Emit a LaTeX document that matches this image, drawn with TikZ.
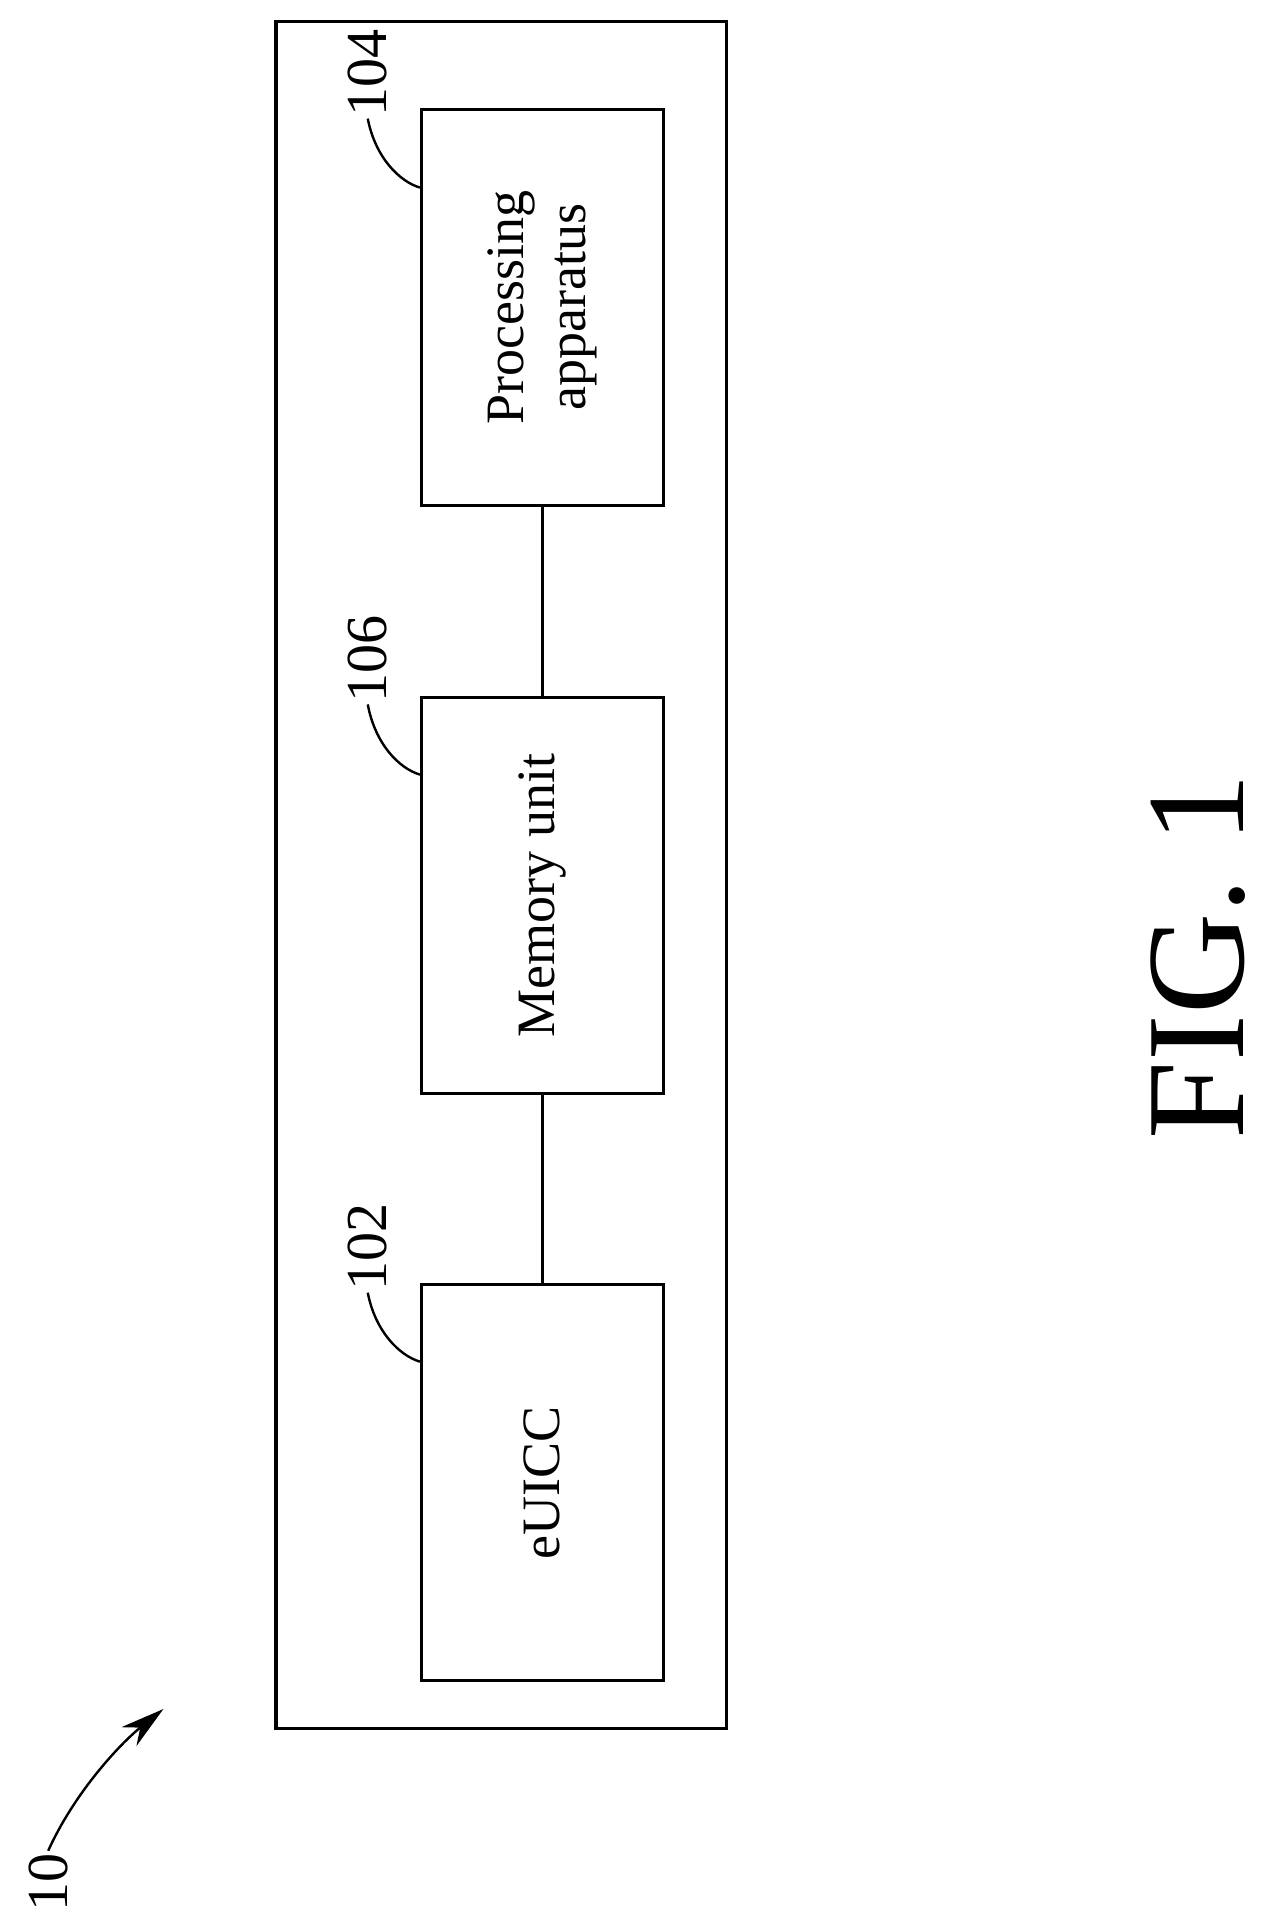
\documentclass[tikz,border=0pt]{standalone}
\usepackage{fontspec}
\setmainfont{Liberation Serif}
\usetikzlibrary{positioning,arrows.meta}
\tikzset{
  block/.style={draw,line width=1.6pt,minimum width=121pt,minimum height=198pt,inner sep=0pt},
  txt/.style={rotate=90,font=\fontsize{27}{31}\selectfont,align=center},
  refnum/.style={rotate=90,font=\fontsize{29}{32}\selectfont,inner sep=1pt}
}
\begin{document}
\begin{tikzpicture}[x=0.605pt,y=-0.605pt]
\useasboundingbox (0,0) rectangle (1050,1583);
% outer device
\draw[line width=1.6pt] (228,18) rectangle (600,1428);
% blocks
\node[block] (proc) at (448,254) {};
\node[block] (mem) at (448,740) {};
\node[block] (euicc) at (448,1225) {};
\node[txt] at (proc) {Processing\\apparatus};
\node[txt] at (mem) {Memory unit};
\node[txt] at (euicc) {eUICC};
% connectors
\draw[line width=1.6pt] (proc.south) -- (mem.north);
\draw[line width=1.6pt] (mem.south) -- (euicc.north);
% reference numerals
\node[refnum,anchor=south west] (n104) at (322,98) {104};
\node[refnum,anchor=south west] (n106) at (322,582) {106};
\node[refnum,anchor=south west] (n102) at (322,1068) {102};
\draw[line width=1.2pt] (n104.west) .. controls (310,130) and (330,150) .. (347,155);
\draw[line width=1.2pt] (n106.west) .. controls (310,615) and (330,635) .. (347,640);
\draw[line width=1.2pt] (n102.west) .. controls (310,1100) and (330,1120) .. (347,1125);
\node[refnum,anchor=south] (n10) at (58,1555) {10};
\coordinate (tip) at (135,1412);
\draw[line width=1.2pt,-{Stealth[length=22pt,width=12pt]}] (n10.east) .. controls (62,1480) and (100,1440) .. (tip);
% figure label
\node[rotate=90,font=\fontsize{70}{74}\selectfont] (fig) at (990,790) {FIG. 1};
\end{tikzpicture}
\end{document}
